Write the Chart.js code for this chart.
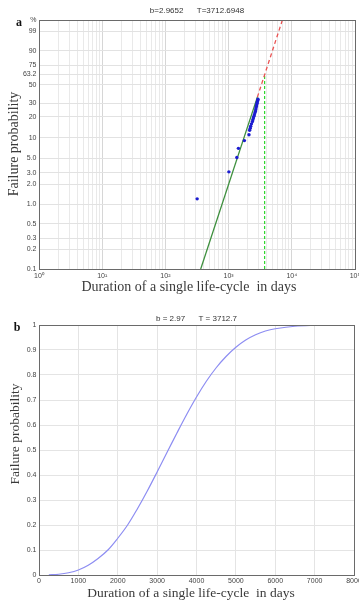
<!DOCTYPE html>
<html>
<head>
<meta charset="utf-8">
<script src="https://cdn.jsdelivr.net/npm/chart.js@4.4.0/dist/chart.umd.min.js"></script>
<style>
  html, body { margin: 0; padding: 0; background: #fff; }
  body { width: 359px; height: 601px; position: relative; overflow: hidden; }
  canvas { position: absolute; left: 0; }
  #weibull-plot { top: 0; }
  #cdf-plot { top: 300px; }
</style>
</head>
<body>
<canvas id="weibull-plot" width="359" height="300"></canvas>
<canvas id="cdf-plot" width="359" height="301"></canvas>
<script>
// ---- panel a : Weibull probability paper ----
const dotDays = [318, 1010, 1350, 1430, 1780, 2100, 2150, 2200, 2235, 2300, 2380, 2420, 2466, 2510, 2558, 2600, 2654, 2690, 2712, 2750, 2782, 2820, 2855, 2890, 2917];
const dotPct  = [1.2, 3.1, 5.1, 7.0, 9.1, 11.1, 12.9, 13.8, 14.7, 15.9, 17.1, 18.2, 19.2, 20.2, 21.2, 22.4, 23.5, 24.8, 26.2, 27.5, 28.8, 30.2, 31.6, 32.8, 34.0];

const fitDays = [362, 2850];      // green fitted line (data range)
const fitPct  = [0.1, 36];
const extDays = [2850, 7100];     // red dashed extension
const extPct  = [36, 99.9];
const charDays = [3713, 3713];    // characteristic life T
const charPct  = [0.1, 63.2];

const yTickPct    = [0.1, 0.2, 0.3, 0.5, 1, 2, 3, 5, 10, 20, 30, 50, 63.2, 75, 90, 99, 99.9];
const yTickLabels = ['0.1', '0.2', '0.3', '0.5', '1.0', '2.0', '3.0', '5.0', '10', '20', '30', '50', '63.2', '75', '90', '99', '%'];
const xDecades      = [1, 10, 100, 1000, 10000, 100000];
const xDecadeLabels = ['10\u2070', '10\u00b9', '10\u00b2', '10\u00b3', '10\u2074', '10\u2075'];

// ---- panel b : cumulative failure probability ----
const cdfDays = [250, 500, 750, 1000, 1250, 1500, 1750, 2000, 2250, 2500, 2750, 3000, 3250, 3500, 3750, 4000, 4250, 4500, 4750, 5000, 5250, 5500, 5750, 6000, 6500, 7100];
const cdfProb = [0.0004, 0.003, 0.009, 0.02, 0.039, 0.066, 0.10, 0.147, 0.20, 0.265, 0.336, 0.412, 0.49, 0.567, 0.642, 0.712, 0.775, 0.829, 0.874, 0.911, 0.94, 0.961, 0.976, 0.985, 0.995, 0.999];

Chart.defaults.font.family = '"Liberation Sans", Arial, sans-serif';
Chart.defaults.devicePixelRatio = 1;

// weibull paper transform: ln(-ln(1-p))
const wb = p => Math.log(-Math.log(1 - p / 100));
const toPts = (xs, ps) => xs.map((x, i) => ({ x: x, y: wb(ps[i]) }));

// 1..9 x 10^k grid for the log axis
const logGrid = [];
for (let k = 0; k < 5; k++) {
    for (let d = 1; d <= 9; d++) logGrid.push(d * Math.pow(10, k));
}
logGrid.push(100000);

// box round the axes + panel letter + axis titles
const frame = {
    id: 'frame',
    afterDraw(chart, args, opts) {
        const { ctx, chartArea: a } = chart;
        ctx.save();
        ctx.strokeStyle = '#6a6a6a';
        ctx.lineWidth = 1;
        ctx.strokeRect(Math.round(a.left) + 0.5, Math.round(a.top) + 0.5,
            Math.round(a.right - a.left), Math.round(a.bottom - a.top));

        ctx.textAlign = 'center';
        ctx.textBaseline = 'middle';
        ctx.fillStyle = '#111';
        ctx.font = 'bold 12px "Liberation Serif"';
        ctx.fillText(opts.letter, opts.letterX, opts.letterY);

        ctx.fillStyle = '#3a3a3a';
        ctx.font = opts.titleSize + 'px "Liberation Serif"';
        ctx.fillText(opts.xTitle, opts.xTitleX, opts.xTitleY);

        ctx.translate(opts.yTitleX, opts.yTitleY);
        ctx.rotate(-Math.PI / 2);
        ctx.fillText(opts.yTitle, 0, 0);
        ctx.restore();
    }
};

const xTitleText = 'Duration of a single life-cycle  in days';

new Chart(document.getElementById('weibull-plot'), {
    type: 'scatter',
    data: {
        datasets: [
            { label: 'data', data: toPts(dotDays, dotPct), pointRadius: 1.7, pointBackgroundColor: '#1c1cd0', pointBorderWidth: 0 },
            { label: 'fit', data: toPts(fitDays, fitPct), showLine: true, borderColor: '#3d8f3d', borderWidth: 1.3, pointRadius: 0 },
            { label: 'extension', data: toPts(extDays, extPct), showLine: true, borderColor: '#ea5252', borderDash: [4, 3], borderWidth: 1.3, pointRadius: 0 },
            { label: 'T', data: toPts(charDays, charPct), showLine: true, borderColor: '#2fd82f', borderDash: [3, 2], borderWidth: 1.2, pointRadius: 0 }
        ]
    },
    options: {
        responsive: false,
        animation: false,
        layout: { padding: { left: 0, right: 4, top: 0, bottom: 0 } },
        scales: {
            x: {
                type: 'logarithmic',
                min: 1,
                max: 100000,
                afterBuildTicks: s => { s.ticks = logGrid.map(v => ({ value: v })); },
                afterFit: s => { s.height = 31; s.paddingLeft = 0; s.paddingRight = 0; },
                ticks: {
                    autoSkip: false, maxRotation: 0, padding: 3,
                    font: { size: 7 }, color: '#444',
                    callback: v => {
                        const k = xDecades.indexOf(v);
                        return k >= 0 ? xDecadeLabels[k] : '';
                    }
                },
                grid: { color: c => xDecades.includes(c.tick && c.tick.value) ? '#d6d6d6' : '#e9e9e9', drawTicks: false },
                border: { display: false }
            },
            y: {
                type: 'linear',
                min: wb(0.1),
                max: wb(99.9),
                afterBuildTicks: s => { s.ticks = yTickPct.map(p => ({ value: wb(p) })); },
                afterFit: s => { s.width = 39; s.paddingTop = 0; s.paddingBottom = 0; },
                ticks: {
                    autoSkip: false, padding: 2.5,
                    font: { size: 7 }, color: '#444',
                    callback: (v, i) => yTickLabels[i]
                },
                grid: { color: '#e2e2e2', drawTicks: false },
                border: { display: false }
            }
        },
        plugins: {
            legend: { display: false },
            tooltip: { enabled: false },
            title: {
                display: true, fullSize: false,
                text: 'b=2.9652      T=3712.6948',
                font: { size: 8, weight: 'normal' }, color: '#333',
                padding: { top: 6.2, bottom: 4.2 }
            },
            frame: {
                letter: 'a', letterX: 19, letterY: 23, titleSize: 14,
                xTitle: xTitleText, xTitleX: 189, xTitleY: 287,
                yTitle: 'Failure probability', yTitleX: 14, yTitleY: 144
            }
        }
    },
    plugins: [frame]
});

new Chart(document.getElementById('cdf-plot'), {
    type: 'line',
    data: {
        datasets: [{
            label: 'F(t)',
            data: cdfDays.map((d, i) => ({ x: d, y: cdfProb[i] })),
            borderColor: '#8d8df2',
            borderWidth: 1.2,
            pointRadius: 0,
            tension: 0.35
        }]
    },
    options: {
        responsive: false,
        animation: false,
        layout: { padding: { left: 0, right: 5, top: 0, bottom: 0 } },
        scales: {
            x: {
                type: 'linear',
                min: 0,
                max: 8000,
                afterFit: s => { s.height = 26; s.paddingLeft = 0; s.paddingRight = 0; },
                ticks: { stepSize: 1000, autoSkip: false, maxRotation: 0, padding: 2, font: { size: 7 }, color: '#444', callback: v => String(v) },
                grid: { color: '#e4e4e4', drawTicks: false },
                border: { display: false }
            },
            y: {
                type: 'linear',
                min: 0,
                max: 1,
                afterFit: s => { s.width = 39; s.paddingTop = 0; s.paddingBottom = 0; },
                ticks: { stepSize: 0.1, autoSkip: false, padding: 2.5, font: { size: 7 }, color: '#444', callback: v => String(Math.round(v * 10) / 10) },
                grid: { color: '#e4e4e4', drawTicks: false },
                border: { display: false }
            }
        },
        plugins: {
            legend: { display: false },
            tooltip: { enabled: false },
            title: {
                display: true, fullSize: false,
                text: 'b = 2.97      T = 3712.7',
                font: { size: 8, weight: 'normal' }, color: '#333',
                padding: { top: 14, bottom: 1.4 }
            },
            frame: {
                letter: 'b', letterX: 17, letterY: 28, titleSize: 13.5,
                xTitle: xTitleText, xTitleX: 191, xTitleY: 293,
                yTitle: 'Failure probability', yTitleX: 15, yTitleY: 134
            }
        }
    },
    plugins: [frame]
});
</script>
</body>
</html>
